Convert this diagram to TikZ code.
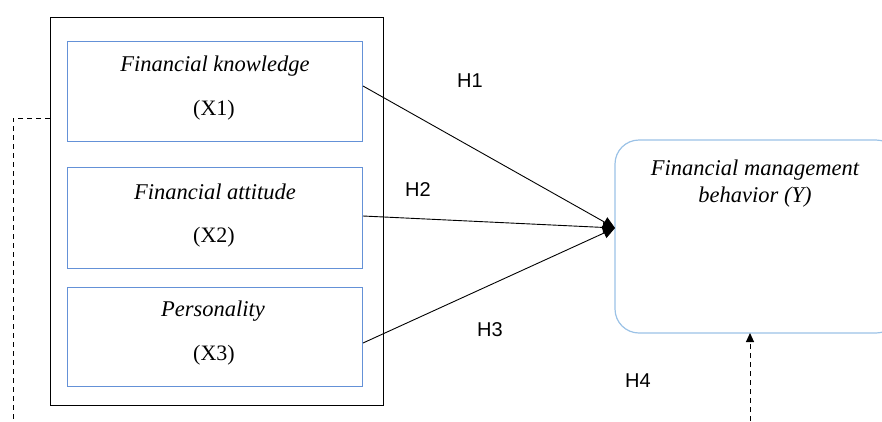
\documentclass[tikz,border=0pt]{standalone}
\usepackage{fontspec}
\setmainfont{Liberation Serif}
\newfontfamily\hfont{Liberation Sans}
\usetikzlibrary{arrows.meta}
\definecolor{inblue}{RGB}{100,145,215}
\definecolor{ltblue}{RGB}{155,194,230}
\begin{document}
\begin{tikzpicture}[x=1pt,y=-1pt,
  varbox/.style={draw=inblue,line width=1pt},
  vtext/.style={font=\fontsize{22.5}{27}\selectfont\itshape,inner sep=0pt},
  ctext/.style={font=\fontsize{22}{26}\selectfont,inner sep=0pt},
  hlab/.style={font=\hfont\fontsize{20}{24}\selectfont,inner sep=0pt},
  conn/.style={line width=0.9pt,-{Triangle[length=12pt,width=11pt]}},
  dashline/.style={line width=1pt,dash pattern=on 5pt off 4pt}]
\useasboundingbox (0,0) rectangle (882,421);
\clip (0,0) rectangle (882,421);
% outer box
\draw[line width=1pt] (50,17) rectangle (383,405);
% inner boxes
\node[varbox,minimum width=295pt,minimum height=100pt,anchor=north west] (b1) at (67,41) {};
\node[varbox,minimum width=295pt,minimum height=101pt,anchor=north west] (b2) at (67,167) {};
\node[varbox,minimum width=295pt,minimum height=99pt,anchor=north west] (b3) at (67,287) {};
\node[vtext] (t1) at (215,66) {Financial knowledge};
\node[ctext] (c1) at (214,110) {(X1)};
\node[vtext] (t2) at (215,192) {Financial attitude};
\node[ctext] (c2) at (214,237) {(X2)};
\node[vtext] (t3) at (213,311) {Personality};
\node[ctext] (c3) at (214,355) {(X3)};
% right box
\draw[ltblue,line width=1.2pt,rounded corners=24pt] (615,140) rectangle (900,333);
\coordinate (ytip) at (615,228);
\coordinate (ybot) at (750,333);
\node[vtext,align=center] (y) at (755,184) {Financial management\\behavior (Y)};
% connectors
\draw[conn] (b1.east |- 0,86) -- (ytip);
\draw[conn] (b2.east |- 0,216) -- (ytip);
\draw[conn] (b3.east |- 0,343) -- (ytip);
% labels
\node[hlab] (h1) at (470,81) {H1};
\node[hlab] (h2) at (418,190) {H2};
\node[hlab] (h3) at (490,330) {H3};
\node[hlab] (h4) at (638,381) {H4};
% dashed lines
\coordinate (lt) at (13,118);
\coordinate (lb) at (13,421);
\coordinate (lo) at (50,118);
\draw[dashline] (lo) -- (lt) -- (lb);
\coordinate (bb) at (750,421);
\draw[dashline,-{Triangle[length=9pt,width=8pt]}] (bb) -- (ybot);
\end{tikzpicture}
\end{document}
